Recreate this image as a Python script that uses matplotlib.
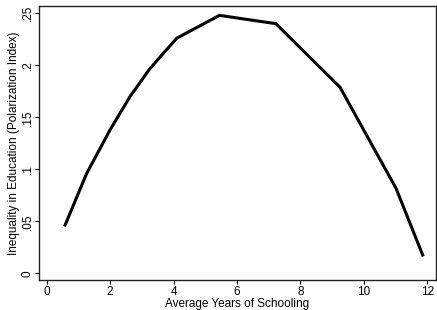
import numpy as np
import matplotlib
matplotlib.use("Agg")
import matplotlib.pyplot as plt

plt.rcParams['font.family'] = ['Liberation Sans', 'DejaVu Sans']

# average years of schooling vs. polarization index
years = [0.58, 1.26, 2.0, 2.63, 3.26, 4.1, 5.45, 7.23, 9.25, 11.02, 11.86]
polar = [0.0464, 0.096, 0.138, 0.170, 0.197, 0.226, 0.248, 0.240, 0.179, 0.0817, 0.0176]

xticks = [0, 2, 4, 6, 8, 10, 12]
yticks = [0, 0.05, 0.1, 0.15, 0.2, 0.25]
ylabels = ['0', '.05', '.1', '.15', '.2', '.25']

fig = plt.figure(figsize=(4.37, 3.10), dpi=100)
ax = fig.add_axes([39/437, 30/310, 397/437, 274/310])
ax.plot(years, polar, color='black', lw=2.2, solid_joinstyle='miter')

ax.set_xlim(-0.243, 12.28)
ax.set_ylim(-0.0064, 0.257)
ax.set_xticks(xticks)
ax.set_yticks(yticks)
ax.set_yticklabels(ylabels, rotation=90, va='center')
ax.tick_params(direction='out', length=3, width=0.8, labelsize=8.5, colors='black', pad=1)
for s in ax.spines.values():
    s.set_linewidth(1.0)
    s.set_color('#222222')
ax.set_xlabel('Average Years of Schooling', fontsize=8.5, labelpad=0)
ax.set_ylabel('Inequality in Education (Polarization Index)', fontsize=8.5, labelpad=1)

fig.savefig('out.png', dpi=100)
